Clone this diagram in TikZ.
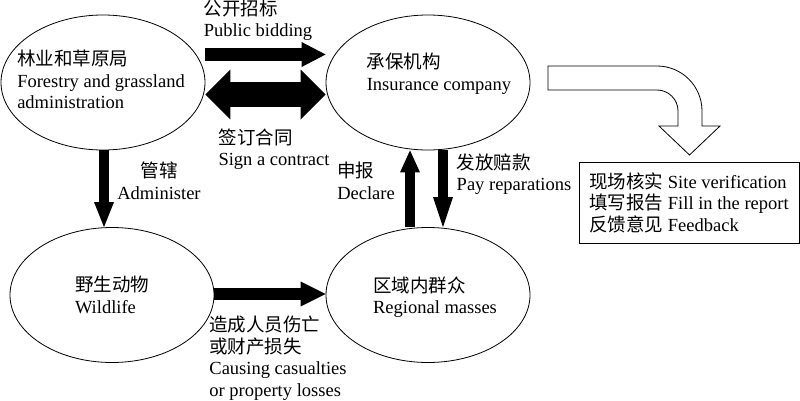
\documentclass[tikz,border=0pt]{standalone}
\usepackage{fontspec}
\setmainfont{Liberation Serif}
\newfontfamily\cjk{Noto Sans CJK SC}
\usetikzlibrary{shapes.geometric,arrows.meta,positioning}

\newcommand{\zh}[1]{{\cjk #1}}

\tikzset{
  actor/.style={draw, ellipse, line width=0.8pt, minimum width=204pt, minimum height=135pt, inner sep=0pt},
  txt/.style={align=left, inner sep=0pt, font=\fontsize{18.5}{21.5}\selectfont},
  bigarrow/.style={line width=#1, black},
}

\begin{document}
\begin{tikzpicture}[x=1pt,y=1pt]
  \useasboundingbox (0,0) rectangle (800,400);

  % the four parties
  \node[actor] (forestry) at (103,317.5) {};
  \node[actor] (insurer) at (428,317.5) {};
  \node[actor] (wildlife) at (112,105) {};
  \node[actor] (masses) at (428,105) {};

  \node[txt] (forestrytext) at ([shift={(-2,3)}]forestry.center) {\zh{林业和草原局}\\Forestry and grassland\\administration};
  \node[txt] (insurertext) at ([shift={(11,9)}]insurer.center) {\zh{承保机构}\\Insurance company};
  \node[txt] (wildlifetext) at (wildlife.center) {\zh{野生动物}\\Wildlife};
  \node[txt] (massestext) at ([shift={(7,-2)}]masses.center) {\zh{区域内群众}\\Regional masses};

  % bidding and contract
  \coordinate (bidS) at ([yshift=28]forestry.east);
  \coordinate (bidE) at ([yshift=28]insurer.west);
  \draw[bigarrow=12pt, -{Triangle[width=25pt,length=24pt,line width=0pt]}] (bidS) -- (bidE);

  \coordinate (conS) at ([yshift=-12]forestry.east);
  \coordinate (conE) at ([yshift=-12]insurer.west);
  \draw[bigarrow=25pt, {Triangle[width=50pt,length=25pt,line width=0pt]}-{Triangle[width=50pt,length=25pt,line width=0pt]}] (conS) -- (conE);

  % administer
  \coordinate (admS) at ([xshift=1]forestry.south);
  \coordinate (admE) at (admS |- wildlife.north);
  \draw[bigarrow=10pt, -{Triangle[width=20pt,length=25pt,line width=0pt]}] (admS) -- (admE);

  % losses
  \draw[bigarrow=12pt, -{Triangle[width=25pt,length=25pt,line width=0pt]}] ([yshift=1]wildlife.east) -- ([yshift=1]masses.west);

  % declare and pay
  \draw[bigarrow=10pt, -{Triangle[width=20pt,length=22pt,line width=0pt]}] ([xshift=-18]masses.north) -- ([xshift=-18]insurer.south);
  \draw[bigarrow=10pt, -{Triangle[width=20pt,length=30pt,line width=0pt]}] ([xshift=15]insurer.south) -- ([xshift=15]masses.north);

  % labels
  \node[txt] (bidlabel) at (258,380) {\zh{公开招标}\\Public bidding};
  \node[txt] (conlabel) at (274,251) {\zh{签订合同}\\Sign a contract};
  \node[txt, align=center] (admlabel) at (159,219) {\zh{管辖}\\Administer};
  \node[txt] (declabel) at (366,219) {\zh{申报}\\Declare};
  \node[txt] (paylabel) at (514,226) {\zh{发放赔款}\\Pay reparations};
  \node[txt] (hurtlabel) at (278,42) {\zh{造成人员伤亡}\\\zh{或财产损失}\\Causing casualties\\or property losses};

  % claim handling
  \draw[line width=0.8pt, fill=white] (548,334) -- (657,334) arc[start angle=90,end angle=0,radius=45]
    -- (702,274) -- (720,274) -- (689.5,245) -- (659,274) -- (678,274) -- (678,289)
    arc[start angle=0,end angle=90,radius=21] -- (548,310) -- cycle;
  \node[txt, draw, line width=0.8pt, minimum width=220pt, minimum height=81pt] (tasks) at (689,197.5)
    {\zh{现场核实} Site verification\\\zh{填写报告} Fill in the report\\\zh{反馈意见} Feedback};

\end{tikzpicture}
\end{document}
